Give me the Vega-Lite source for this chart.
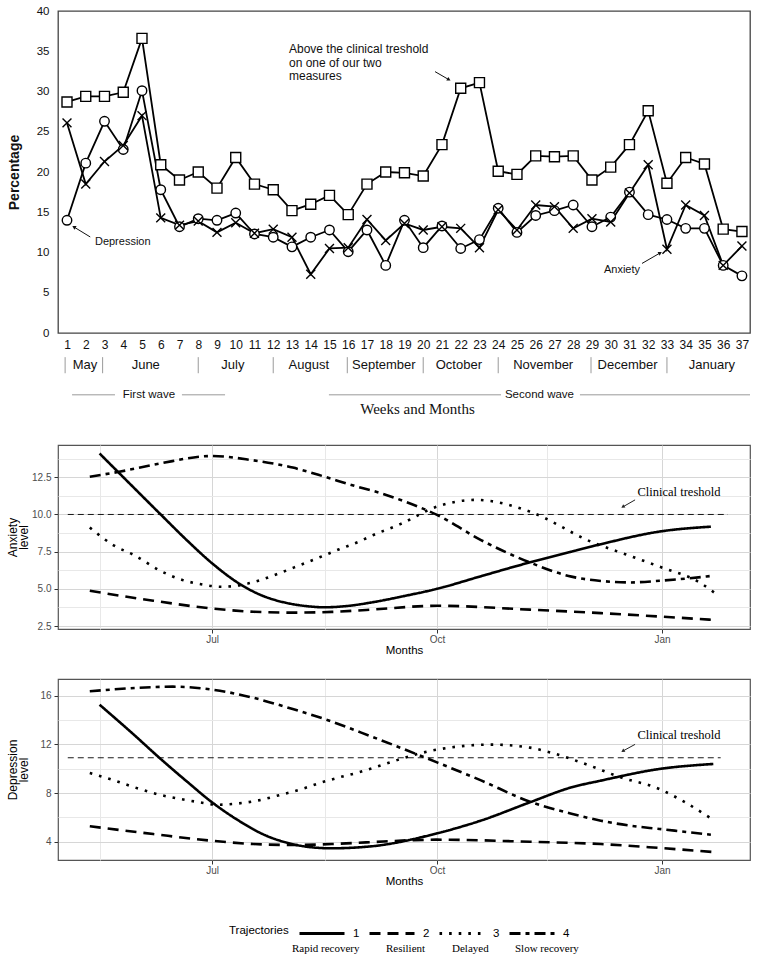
{
  "$schema": "https://vega.github.io/schema/vega-lite/v6.json",
  "background": "white",
  "padding": {"left": 5, "top": 4, "right": 5, "bottom": 2},
  "config": {
    "font": "Liberation Sans",
    "view": {"stroke": "#555555", "strokeWidth": 1.2},
    "axis": {"labelFont": "Liberation Sans", "titleFont": "Liberation Sans"},
    "legend": {"labelFont": "Liberation Sans", "titleFont": "Liberation Sans"}
  },
  "spacing": 21,
  "resolve": {
    "scale": {"strokeDash": "independent", "color": "independent", "shape": "independent", "size": "independent"},
    "legend": {"strokeDash": "independent", "color": "independent", "shape": "independent", "size": "independent"}
  },
  "datasets": {
    "weekly": [
      {"week":1,"measure":"Above threshold","percent":28.7},{"week":2,"measure":"Above threshold","percent":29.4},{"week":3,"measure":"Above threshold","percent":29.4},{"week":4,"measure":"Above threshold","percent":29.9},{"week":5,"measure":"Above threshold","percent":36.6},{"week":6,"measure":"Above threshold","percent":20.9},{"week":7,"measure":"Above threshold","percent":19.0},{"week":8,"measure":"Above threshold","percent":20.0},{"week":9,"measure":"Above threshold","percent":18.0},{"week":10,"measure":"Above threshold","percent":21.8},{"week":11,"measure":"Above threshold","percent":18.5},{"week":12,"measure":"Above threshold","percent":17.8},{"week":13,"measure":"Above threshold","percent":15.2},{"week":14,"measure":"Above threshold","percent":16.0},{"week":15,"measure":"Above threshold","percent":17.1},{"week":16,"measure":"Above threshold","percent":14.7},{"week":17,"measure":"Above threshold","percent":18.5},{"week":18,"measure":"Above threshold","percent":20.0},{"week":19,"measure":"Above threshold","percent":19.9},{"week":20,"measure":"Above threshold","percent":19.5},{"week":21,"measure":"Above threshold","percent":23.4},{"week":22,"measure":"Above threshold","percent":30.4},{"week":23,"measure":"Above threshold","percent":31.1},{"week":24,"measure":"Above threshold","percent":20.1},{"week":25,"measure":"Above threshold","percent":19.7},{"week":26,"measure":"Above threshold","percent":22.0},{"week":27,"measure":"Above threshold","percent":21.9},{"week":28,"measure":"Above threshold","percent":22.0},{"week":29,"measure":"Above threshold","percent":19.0},{"week":30,"measure":"Above threshold","percent":20.6},{"week":31,"measure":"Above threshold","percent":23.4},{"week":32,"measure":"Above threshold","percent":27.6},{"week":33,"measure":"Above threshold","percent":18.6},{"week":34,"measure":"Above threshold","percent":21.8},{"week":35,"measure":"Above threshold","percent":21.0},{"week":36,"measure":"Above threshold","percent":12.9},{"week":37,"measure":"Above threshold","percent":12.6},
      {"week":1,"measure":"Depression","percent":14.0},{"week":2,"measure":"Depression","percent":21.1},{"week":3,"measure":"Depression","percent":26.3},{"week":4,"measure":"Depression","percent":22.8},{"week":5,"measure":"Depression","percent":30.1},{"week":6,"measure":"Depression","percent":17.8},{"week":7,"measure":"Depression","percent":13.2},{"week":8,"measure":"Depression","percent":14.2},{"week":9,"measure":"Depression","percent":14.0},{"week":10,"measure":"Depression","percent":14.9},{"week":11,"measure":"Depression","percent":12.3},{"week":12,"measure":"Depression","percent":11.9},{"week":13,"measure":"Depression","percent":10.7},{"week":14,"measure":"Depression","percent":11.9},{"week":15,"measure":"Depression","percent":12.8},{"week":16,"measure":"Depression","percent":10.1},{"week":17,"measure":"Depression","percent":12.8},{"week":18,"measure":"Depression","percent":8.4},{"week":19,"measure":"Depression","percent":14.0},{"week":20,"measure":"Depression","percent":10.6},{"week":21,"measure":"Depression","percent":13.3},{"week":22,"measure":"Depression","percent":10.5},{"week":23,"measure":"Depression","percent":11.6},{"week":24,"measure":"Depression","percent":15.5},{"week":25,"measure":"Depression","percent":12.5},{"week":26,"measure":"Depression","percent":14.6},{"week":27,"measure":"Depression","percent":15.2},{"week":28,"measure":"Depression","percent":15.9},{"week":29,"measure":"Depression","percent":13.2},{"week":30,"measure":"Depression","percent":14.4},{"week":31,"measure":"Depression","percent":17.5},{"week":32,"measure":"Depression","percent":14.7},{"week":33,"measure":"Depression","percent":14.1},{"week":34,"measure":"Depression","percent":13.0},{"week":35,"measure":"Depression","percent":13.0},{"week":36,"measure":"Depression","percent":8.4},{"week":37,"measure":"Depression","percent":7.1},
      {"week":1,"measure":"Anxiety","percent":26.1},{"week":2,"measure":"Anxiety","percent":18.5},{"week":3,"measure":"Anxiety","percent":21.3},{"week":4,"measure":"Anxiety","percent":23.3},{"week":5,"measure":"Anxiety","percent":27.0},{"week":6,"measure":"Anxiety","percent":14.3},{"week":7,"measure":"Anxiety","percent":13.4},{"week":8,"measure":"Anxiety","percent":13.9},{"week":9,"measure":"Anxiety","percent":12.5},{"week":10,"measure":"Anxiety","percent":13.7},{"week":11,"measure":"Anxiety","percent":12.4},{"week":12,"measure":"Anxiety","percent":12.9},{"week":13,"measure":"Anxiety","percent":11.9},{"week":14,"measure":"Anxiety","percent":7.3},{"week":15,"measure":"Anxiety","percent":10.5},{"week":16,"measure":"Anxiety","percent":10.6},{"week":17,"measure":"Anxiety","percent":14.1},{"week":18,"measure":"Anxiety","percent":11.5},{"week":19,"measure":"Anxiety","percent":13.6},{"week":20,"measure":"Anxiety","percent":12.8},{"week":21,"measure":"Anxiety","percent":13.2},{"week":22,"measure":"Anxiety","percent":13.0},{"week":23,"measure":"Anxiety","percent":10.6},{"week":24,"measure":"Anxiety","percent":15.3},{"week":25,"measure":"Anxiety","percent":12.8},{"week":26,"measure":"Anxiety","percent":15.9},{"week":27,"measure":"Anxiety","percent":15.7},{"week":28,"measure":"Anxiety","percent":13.0},{"week":29,"measure":"Anxiety","percent":14.2},{"week":30,"measure":"Anxiety","percent":13.8},{"week":31,"measure":"Anxiety","percent":17.4},{"week":32,"measure":"Anxiety","percent":20.9},{"week":33,"measure":"Anxiety","percent":10.4},{"week":34,"measure":"Anxiety","percent":15.9},{"week":35,"measure":"Anxiety","percent":14.6},{"week":36,"measure":"Anxiety","percent":8.4},{"week":37,"measure":"Anxiety","percent":10.8}
    ],
    "months": [
      {"month":"May","middle":1.96},{"month":"June","middle":5.2},{"month":"July","middle":9.85},{"month":"August","middle":13.9},{"month":"September","middle":17.9},{"month":"October","middle":21.9},{"month":"November","middle":26.4},{"month":"December","middle":30.9},{"month":"January","middle":35.4}
    ],
    "monthBoundaries": [
      {"boundary":0.9},{"boundary":2.9},{"boundary":8},{"boundary":12},{"boundary":15.95},{"boundary":20},{"boundary":24},{"boundary":28.95},{"boundary":33}
    ],
    "waveSpans": [
      {"wave":"First wave","from":1.27,"to":3.56},{"wave":"First wave","from":7.13,"to":9.43},
      {"wave":"Second wave","from":14.97,"to":24.15},{"wave":"Second wave","from":28.36,"to":37.43}
    ],
    "waveLabels": [{"wave":"First wave","middle":5.37},{"wave":"Second wave","middle":26.2}],
    "topNotes": [
      {"note":"Depression","week":2.49,"percent":11.28},
      {"note":"Anxiety","week":29.64,"percent":7.81}
    ],
    "topNoteAbove": [{"note":"Above the clinical treshold\non one of our two\nmeasures","week":12.84,"percent":35.9}],
    "topArrows": [
      {"arrow":"above","fromWeek":20.63,"toWeek":21.37,"fromPercent":32.47,"toPercent":31.47},
      {"arrow":"depression","fromWeek":2.24,"toWeek":1.37,"fromPercent":11.93,"toPercent":13.17},
      {"arrow":"anxiety","fromWeek":31.67,"toWeek":32.64,"fromPercent":8.64,"toPercent":9.95}
    ],
    "anxiety": [
      {"date":"2020-05-16","trajectory":"1","label":"Rapid recovery","level":14.1},{"date":"2020-05-30","trajectory":"1","label":"Rapid recovery","level":11.8},{"date":"2020-06-10","trajectory":"1","label":"Rapid recovery","level":10.0},{"date":"2020-06-21","trajectory":"1","label":"Rapid recovery","level":8.22},{"date":"2020-07-01","trajectory":"1","label":"Rapid recovery","level":6.72},{"date":"2020-07-13","trajectory":"1","label":"Rapid recovery","level":5.26},{"date":"2020-07-21","trajectory":"1","label":"Rapid recovery","level":4.58},{"date":"2020-07-31","trajectory":"1","label":"Rapid recovery","level":4.07},{"date":"2020-08-08","trajectory":"1","label":"Rapid recovery","level":3.85},{"date":"2020-08-16","trajectory":"1","label":"Rapid recovery","level":3.76},{"date":"2020-08-27","trajectory":"1","label":"Rapid recovery","level":3.88},{"date":"2020-09-04","trajectory":"1","label":"Rapid recovery","level":4.08},{"date":"2020-09-18","trajectory":"1","label":"Rapid recovery","level":4.53},{"date":"2020-10-01","trajectory":"1","label":"Rapid recovery","level":5.0},{"date":"2020-10-19","trajectory":"1","label":"Rapid recovery","level":5.85},{"date":"2020-11-08","trajectory":"1","label":"Rapid recovery","level":6.78},{"date":"2020-11-25","trajectory":"1","label":"Rapid recovery","level":7.5},{"date":"2020-12-07","trajectory":"1","label":"Rapid recovery","level":8.0},{"date":"2020-12-31","trajectory":"1","label":"Rapid recovery","level":8.85},{"date":"2021-01-21","trajectory":"1","label":"Rapid recovery","level":9.18},
      {"date":"2020-05-12","trajectory":"2","label":"Resilient","level":4.87},{"date":"2020-06-07","trajectory":"2","label":"Resilient","level":4.2},{"date":"2020-07-01","trajectory":"2","label":"Resilient","level":3.68},{"date":"2020-07-18","trajectory":"2","label":"Resilient","level":3.46},{"date":"2020-08-03","trajectory":"2","label":"Resilient","level":3.4},{"date":"2020-08-19","trajectory":"2","label":"Resilient","level":3.45},{"date":"2020-09-02","trajectory":"2","label":"Resilient","level":3.58},{"date":"2020-10-01","trajectory":"2","label":"Resilient","level":3.86},{"date":"2020-11-08","trajectory":"2","label":"Resilient","level":3.6},{"date":"2020-12-07","trajectory":"2","label":"Resilient","level":3.37},{"date":"2020-12-31","trajectory":"2","label":"Resilient","level":3.14},{"date":"2021-01-21","trajectory":"2","label":"Resilient","level":2.92},
      {"date":"2020-05-12","trajectory":"3","label":"Delayed","level":9.12},{"date":"2020-05-22","trajectory":"3","label":"Delayed","level":7.9},{"date":"2020-05-30","trajectory":"3","label":"Delayed","level":7.28},{"date":"2020-06-10","trajectory":"3","label":"Delayed","level":6.2},{"date":"2020-06-18","trajectory":"3","label":"Delayed","level":5.64},{"date":"2020-06-26","trajectory":"3","label":"Delayed","level":5.32},{"date":"2020-07-05","trajectory":"3","label":"Delayed","level":5.14},{"date":"2020-07-13","trajectory":"3","label":"Delayed","level":5.26},{"date":"2020-07-21","trajectory":"3","label":"Delayed","level":5.6},{"date":"2020-07-29","trajectory":"3","label":"Delayed","level":6.08},{"date":"2020-08-06","trajectory":"3","label":"Delayed","level":6.6},{"date":"2020-08-14","trajectory":"3","label":"Delayed","level":7.12},{"date":"2020-08-22","trajectory":"3","label":"Delayed","level":7.66},{"date":"2020-08-30","trajectory":"3","label":"Delayed","level":8.17},{"date":"2020-09-05","trajectory":"3","label":"Delayed","level":8.62},{"date":"2020-09-16","trajectory":"3","label":"Delayed","level":9.35},{"date":"2020-10-01","trajectory":"3","label":"Delayed","level":10.53},{"date":"2020-10-17","trajectory":"3","label":"Delayed","level":10.98},{"date":"2020-10-23","trajectory":"3","label":"Delayed","level":10.9},{"date":"2020-11-08","trajectory":"3","label":"Delayed","level":10.19},{"date":"2020-12-03","trajectory":"3","label":"Delayed","level":8.17},{"date":"2020-12-19","trajectory":"3","label":"Delayed","level":7.21},{"date":"2020-12-31","trajectory":"3","label":"Delayed","level":6.49},{"date":"2021-01-17","trajectory":"3","label":"Delayed","level":5.37},{"date":"2021-01-23","trajectory":"3","label":"Delayed","level":4.67},
      {"date":"2020-05-12","trajectory":"4","label":"Slow recovery","level":12.54},{"date":"2020-05-24","trajectory":"4","label":"Slow recovery","level":12.87},{"date":"2020-06-10","trajectory":"4","label":"Slow recovery","level":13.44},{"date":"2020-07-01","trajectory":"4","label":"Slow recovery","level":13.93},{"date":"2020-07-17","trajectory":"4","label":"Slow recovery","level":13.66},{"date":"2020-08-03","trajectory":"4","label":"Slow recovery","level":13.15},{"date":"2020-08-16","trajectory":"4","label":"Slow recovery","level":12.54},{"date":"2020-08-27","trajectory":"4","label":"Slow recovery","level":11.98},{"date":"2020-09-08","trajectory":"4","label":"Slow recovery","level":11.43},{"date":"2020-09-18","trajectory":"4","label":"Slow recovery","level":10.86},{"date":"2020-10-01","trajectory":"4","label":"Slow recovery","level":9.97},{"date":"2020-10-19","trajectory":"4","label":"Slow recovery","level":8.28},{"date":"2020-11-08","trajectory":"4","label":"Slow recovery","level":6.77},{"date":"2020-11-25","trajectory":"4","label":"Slow recovery","level":5.82},{"date":"2020-12-07","trajectory":"4","label":"Slow recovery","level":5.53},{"date":"2020-12-19","trajectory":"4","label":"Slow recovery","level":5.43},{"date":"2020-12-31","trajectory":"4","label":"Slow recovery","level":5.54},{"date":"2021-01-22","trajectory":"4","label":"Slow recovery","level":5.88}
    ],
    "depression": [
      {"date":"2020-05-16","trajectory":"1","label":"Rapid recovery","level":15.26},{"date":"2020-05-30","trajectory":"1","label":"Rapid recovery","level":12.8},{"date":"2020-06-10","trajectory":"1","label":"Rapid recovery","level":10.8},{"date":"2020-06-21","trajectory":"1","label":"Rapid recovery","level":8.9},{"date":"2020-07-01","trajectory":"1","label":"Rapid recovery","level":7.24},{"date":"2020-07-13","trajectory":"1","label":"Rapid recovery","level":5.6},{"date":"2020-07-22","trajectory":"1","label":"Rapid recovery","level":4.6},{"date":"2020-08-01","trajectory":"1","label":"Rapid recovery","level":3.9},{"date":"2020-08-10","trajectory":"1","label":"Rapid recovery","level":3.56},{"date":"2020-08-19","trajectory":"1","label":"Rapid recovery","level":3.46},{"date":"2020-08-30","trajectory":"1","label":"Rapid recovery","level":3.54},{"date":"2020-09-04","trajectory":"1","label":"Rapid recovery","level":3.62},{"date":"2020-10-01","trajectory":"1","label":"Rapid recovery","level":4.69},{"date":"2020-10-19","trajectory":"1","label":"Rapid recovery","level":5.74},{"date":"2020-11-08","trajectory":"1","label":"Rapid recovery","level":7.24},{"date":"2020-11-25","trajectory":"1","label":"Rapid recovery","level":8.47},{"date":"2020-12-07","trajectory":"1","label":"Rapid recovery","level":9.02},{"date":"2020-12-31","trajectory":"1","label":"Rapid recovery","level":9.98},{"date":"2021-01-22","trajectory":"1","label":"Rapid recovery","level":10.39},
      {"date":"2020-05-12","trajectory":"2","label":"Resilient","level":5.27},{"date":"2020-06-07","trajectory":"2","label":"Resilient","level":4.63},{"date":"2020-07-01","trajectory":"2","label":"Resilient","level":4.08},{"date":"2020-07-18","trajectory":"2","label":"Resilient","level":3.81},{"date":"2020-08-03","trajectory":"2","label":"Resilient","level":3.73},{"date":"2020-08-19","trajectory":"2","label":"Resilient","level":3.81},{"date":"2020-09-02","trajectory":"2","label":"Resilient","level":3.95},{"date":"2020-10-01","trajectory":"2","label":"Resilient","level":4.17},{"date":"2020-11-08","trajectory":"2","label":"Resilient","level":4.0},{"date":"2020-12-07","trajectory":"2","label":"Resilient","level":3.81},{"date":"2020-12-31","trajectory":"2","label":"Resilient","level":3.49},{"date":"2021-01-23","trajectory":"2","label":"Resilient","level":3.14},
      {"date":"2020-05-12","trajectory":"3","label":"Delayed","level":9.65},{"date":"2020-05-22","trajectory":"3","label":"Delayed","level":9.04},{"date":"2020-05-30","trajectory":"3","label":"Delayed","level":8.49},{"date":"2020-06-10","trajectory":"3","label":"Delayed","level":7.84},{"date":"2020-06-18","trajectory":"3","label":"Delayed","level":7.51},{"date":"2020-06-26","trajectory":"3","label":"Delayed","level":7.24},{"date":"2020-07-03","trajectory":"3","label":"Delayed","level":7.04},{"date":"2020-07-12","trajectory":"3","label":"Delayed","level":7.15},{"date":"2020-07-20","trajectory":"3","label":"Delayed","level":7.4},{"date":"2020-07-28","trajectory":"3","label":"Delayed","level":7.8},{"date":"2020-08-07","trajectory":"3","label":"Delayed","level":8.35},{"date":"2020-08-14","trajectory":"3","label":"Delayed","level":8.82},{"date":"2020-08-22","trajectory":"3","label":"Delayed","level":9.29},{"date":"2020-08-30","trajectory":"3","label":"Delayed","level":9.7},{"date":"2020-09-03","trajectory":"3","label":"Delayed","level":9.95},{"date":"2020-10-01","trajectory":"3","label":"Delayed","level":11.57},{"date":"2020-10-23","trajectory":"3","label":"Delayed","level":11.98},{"date":"2020-11-08","trajectory":"3","label":"Delayed","level":11.73},{"date":"2020-11-17","trajectory":"3","label":"Delayed","level":11.3},{"date":"2020-12-01","trajectory":"3","label":"Delayed","level":10.36},{"date":"2020-12-15","trajectory":"3","label":"Delayed","level":9.3},{"date":"2020-12-31","trajectory":"3","label":"Delayed","level":8.33},{"date":"2021-01-10","trajectory":"3","label":"Delayed","level":7.29},{"date":"2021-01-21","trajectory":"3","label":"Delayed","level":5.93},
      {"date":"2020-05-12","trajectory":"4","label":"Slow recovery","level":16.36},{"date":"2020-05-28","trajectory":"4","label":"Slow recovery","level":16.6},{"date":"2020-06-15","trajectory":"4","label":"Slow recovery","level":16.74},{"date":"2020-07-01","trajectory":"4","label":"Slow recovery","level":16.5},{"date":"2020-07-17","trajectory":"4","label":"Slow recovery","level":15.87},{"date":"2020-08-03","trajectory":"4","label":"Slow recovery","level":14.9},{"date":"2020-08-16","trajectory":"4","label":"Slow recovery","level":14.08},{"date":"2020-09-04","trajectory":"4","label":"Slow recovery","level":12.66},{"date":"2020-10-01","trajectory":"4","label":"Slow recovery","level":10.52},{"date":"2020-10-19","trajectory":"4","label":"Slow recovery","level":9.04},{"date":"2020-11-08","trajectory":"4","label":"Slow recovery","level":7.29},{"date":"2020-11-25","trajectory":"4","label":"Slow recovery","level":6.3},{"date":"2020-12-07","trajectory":"4","label":"Slow recovery","level":5.73},{"date":"2020-12-19","trajectory":"4","label":"Slow recovery","level":5.32},{"date":"2020-12-31","trajectory":"4","label":"Slow recovery","level":5.05},{"date":"2021-01-21","trajectory":"4","label":"Slow recovery","level":4.58}
    ],
    "anxietyThreshold": [{"from":"2020-05-03","to":"2021-01-28","level":10}],
    "depressionThreshold": [{"from":"2020-05-03","to":"2021-01-25","level":10.9}],
    "anxietyNote": [{"note":"Clinical treshold","date":"2020-12-22","level":11.53}],
    "anxietyArrow": [{"from":"2020-12-21","to":"2020-12-16","start":10.98,"end":10.51}],
    "depressionNote": [{"note":"Clinical treshold","date":"2020-12-22","level":12.77}],
    "depressionArrow": [{"from":"2020-12-21","to":"2020-12-16","start":12.0,"end":11.45}]
  },
  "vconcat": [
    {
      "width": 692,
      "height": 322,
      "view": {"stroke": "#444444", "strokeWidth": 1.3},
      "layer": [
        {
          "data": {"name": "weekly"},
          "mark": {"type": "line", "color": "black", "strokeWidth": 1.8},
          "encoding": {
            "x": {"field": "week", "type": "quantitative",
              "scale": {"domain": [0.52, 37.43], "nice": false, "zero": false},
              "axis": {"values": [1,2,3,4,5,6,7,8,9,10,11,12,13,14,15,16,17,18,19,20,21,22,23,24,25,26,27,28,29,30,31,32,33,34,35,36,37],
                "tickCount": 40, "format": "d", "ticks": false, "tickSize": 0, "domain": false, "grid": false, "labelPadding": 6,
                "labelFontSize": 12, "labelColor": "#111111", "labelOverlap": false, "labelFlush": false, "labelBound": false,
                "title": "Weeks and Months", "titleFont": "Liberation Serif", "titleFontSize": 15, "titleFontWeight": "normal",
                "titleColor": "#111111", "titlePadding": 51, "titleX": 359}},
            "y": {"field": "percent", "type": "quantitative",
              "scale": {"domain": [0, 40], "nice": false},
              "axis": {"values": [0,5,10,15,20,25,30,35,40], "ticks": false, "tickSize": 0, "domain": false, "grid": false,
                "labelPadding": 9, "labelFontSize": 11.5, "labelColor": "#111111", "minExtent": 24, "maxExtent": 24,
                "title": "Percentage", "titleFontSize": 14, "titleFontWeight": "bold", "titleColor": "#111111", "titlePadding": 13}},
            "detail": {"field": "measure", "type": "nominal"}
          }
        },
        {
          "data": {"name": "weekly"},
          "mark": {"type": "point", "filled": true, "fill": "white", "stroke": "black", "strokeWidth": 1.4, "opacity": 1},
          "encoding": {
            "x": {"field": "week", "type": "quantitative"},
            "y": {"field": "percent", "type": "quantitative"},
            "shape": {"field": "measure", "type": "nominal",
              "scale": {"domain": ["Above threshold", "Depression", "Anxiety"], "range": ["square", "circle", "M-1,-1L1,1M-1,1L1,-1"]},
              "legend": null},
            "size": {"field": "measure", "type": "ordinal",
              "scale": {"domain": ["Above threshold", "Depression", "Anxiety"], "range": [100, 80, 50]},
              "legend": null}
          }
        },
        {
          "data": {"name": "months"},
          "mark": {"type": "text", "fontSize": 13, "color": "#111111", "baseline": "middle"},
          "encoding": {
            "x": {"field": "middle", "type": "quantitative"},
            "y": {"datum": -4, "type": "quantitative"},
            "text": {"field": "month", "type": "nominal"}
          }
        },
        {
          "data": {"name": "monthBoundaries"},
          "mark": {"type": "rule", "color": "#9a9a9a", "strokeWidth": 1},
          "encoding": {
            "x": {"field": "boundary", "type": "quantitative"},
            "y": {"datum": -3, "type": "quantitative"},
            "y2": {"datum": -5}
          }
        },
        {
          "data": {"name": "waveSpans"},
          "mark": {"type": "rule", "color": "#9a9a9a", "strokeWidth": 1},
          "encoding": {
            "x": {"field": "from", "type": "quantitative"},
            "x2": {"field": "to"},
            "y": {"datum": -7.68, "type": "quantitative"}
          }
        },
        {
          "data": {"name": "waveLabels"},
          "mark": {"type": "text", "fontSize": 11.5, "color": "#111111", "baseline": "middle"},
          "encoding": {
            "x": {"field": "middle", "type": "quantitative"},
            "y": {"datum": -7.68, "type": "quantitative"},
            "text": {"field": "wave", "type": "nominal"}
          }
        },
        {
          "data": {"name": "topNotes"},
          "mark": {"type": "text", "fontSize": 11, "color": "#111111", "align": "left", "baseline": "middle"},
          "encoding": {
            "x": {"field": "week", "type": "quantitative"},
            "y": {"field": "percent", "type": "quantitative"},
            "text": {"field": "note", "type": "nominal"}
          }
        },
        {
          "data": {"name": "topNoteAbove"},
          "mark": {"type": "text", "fontSize": 12, "color": "#111111", "align": "left", "baseline": "top", "lineBreak": "\n", "lineHeight": 13.5},
          "encoding": {
            "x": {"field": "week", "type": "quantitative"},
            "y": {"field": "percent", "type": "quantitative"},
            "text": {"field": "note", "type": "nominal"}
          }
        },
        {
          "data": {"name": "topArrows"},
          "mark": {"type": "rule", "color": "#111111", "strokeWidth": 1},
          "encoding": {
            "x": {"field": "fromWeek", "type": "quantitative"},
            "x2": {"field": "toWeek"},
            "y": {"field": "fromPercent", "type": "quantitative"},
            "y2": {"field": "toPercent"}
          }
        },
        {
          "data": {"name": "topArrows"},
          "transform": [{"filter": "datum.arrow == 'above'"}],
          "mark": {"type": "point", "shape": "triangle-up", "filled": true, "color": "#111111", "size": 18, "angle": 120, "opacity": 1},
          "encoding": {
            "x": {"field": "toWeek", "type": "quantitative"},
            "y": {"field": "toPercent", "type": "quantitative"}
          }
        },
        {
          "data": {"name": "topArrows"},
          "transform": [{"filter": "datum.arrow == 'depression'"}],
          "mark": {"type": "point", "shape": "triangle-up", "filled": true, "color": "#111111", "size": 18, "angle": 301, "opacity": 1},
          "encoding": {
            "x": {"field": "toWeek", "type": "quantitative"},
            "y": {"field": "toPercent", "type": "quantitative"}
          }
        },
        {
          "data": {"name": "topArrows"},
          "transform": [{"filter": "datum.arrow == 'anxiety'"}],
          "mark": {"type": "point", "shape": "triangle-up", "filled": true, "color": "#111111", "size": 18, "angle": 60, "opacity": 1},
          "encoding": {
            "x": {"field": "toWeek", "type": "quantitative"},
            "y": {"field": "toPercent", "type": "quantitative"}
          }
        }
      ]
    },
    {
      "width": 692,
      "height": 184,
      "layer": [
        {
          "data": {"name": "anxietyThreshold"},
          "mark": {"type": "rule", "color": "black", "strokeWidth": 0.9, "strokeDash": [6, 4]},
          "encoding": {
            "x": {"field": "from", "type": "temporal",
              "scale": {"type": "utc", "domain": [{"year": 2020, "month": 4, "date": 29, "utc": true}, {"year": 2021, "month": 2, "date": 6, "utc": true}]},
              "axis": {"orient": "top", "values": [{"year": 2020, "month": 5, "date": 16, "utc": true}, {"year": 2020, "month": 8, "date": 16, "utc": true}, {"year": 2020, "month": 11, "date": 15, "utc": true}],
                "grid": true, "gridColor": "#e8e8e8", "labels": false, "ticks": true, "tickSize": 5, "tickColor": "transparent", "domain": false, "title": null}},
            "x2": {"field": "to"},
            "y": {"field": "level", "type": "quantitative",
              "scale": {"domain": [2.3, 14.67], "nice": false, "zero": false},
              "axis": {"orient": "right", "values": [3.75, 6.25, 8.75, 11.25, 13.75], "grid": true, "gridColor": "#e8e8e8",
                "labels": false, "ticks": false, "domain": false, "title": null}}
          }
        },
        {
          "data": {"name": "anxiety"},
          "mark": {"type": "line", "strokeWidth": 2.6, "interpolate": "monotone"},
          "encoding": {
            "x": {"field": "date", "type": "temporal",
              "axis": {"orient": "bottom", "values": [{"year": 2020, "month": 7, "date": 1, "utc": true}, {"year": 2020, "month": 10, "date": 1, "utc": true}, {"year": 2021, "month": 1, "date": 1, "utc": true}],
                "labelExpr": "utcFormat(datum.value, '%b')", "grid": true, "gridColor": "#d6d6d6", "tickSize": 4, "tickColor": "#333333",
                "labelPadding": 1, "labelFontSize": 10, "labelColor": "#4d4d4d", "domain": false,
                "title": "Months", "titleFontSize": 11.5, "titleFontWeight": "normal", "titleColor": "black", "titlePadding": 0}},
            "y": {"field": "level", "type": "quantitative",
              "axis": {"orient": "left", "values": [2.5, 5, 7.5, 10, 12.5], "format": ".1f", "grid": true, "gridColor": "#d6d6d6",
                "tickSize": 4, "tickColor": "#333333", "labelPadding": 3, "labelFontSize": 10, "labelColor": "#4d4d4d", "domain": false,
                "minExtent": 24, "maxExtent": 24, "title": ["Anxiety", "level"], "titleFontSize": 12, "titleFontWeight": "normal",
                "titleColor": "black", "titleLineHeight": 11, "titlePadding": 4}},
            "strokeDash": {"field": "trajectory", "type": "nominal",
              "scale": {"domain": ["1", "2", "3", "4"], "range": [[1, 0], [11, 7], [2.6, 7], [11, 5, 4, 5]]}, "legend": null},
            "color": {"field": "label", "type": "nominal",
              "scale": {"domain": ["Rapid recovery", "Resilient", "Delayed", "Slow recovery"], "range": ["black", "black", "black", "black"]}, "legend": null}
          }
        },
        {
          "data": {"name": "anxietyNote"},
          "mark": {"type": "text", "font": "Liberation Serif", "fontSize": 12.5, "color": "black", "align": "left", "baseline": "middle"},
          "encoding": {
            "x": {"field": "date", "type": "temporal", "axis": null},
            "y": {"field": "level", "type": "quantitative", "axis": null},
            "text": {"field": "note", "type": "nominal"}
          }
        },
        {
          "data": {"name": "anxietyArrow"},
          "mark": {"type": "rule", "color": "#222222", "strokeWidth": 1},
          "encoding": {
            "x": {"field": "from", "type": "temporal", "axis": null},
            "x2": {"field": "to"},
            "y": {"field": "start", "type": "quantitative", "axis": null},
            "y2": {"field": "end"}
          }
        },
        {
          "data": {"name": "anxietyArrow"},
          "mark": {"type": "point", "shape": "triangle-up", "filled": true, "color": "#222222", "size": 16, "angle": 237, "opacity": 1},
          "encoding": {
            "x": {"field": "to", "type": "temporal", "axis": null},
            "y": {"field": "end", "type": "quantitative", "axis": null}
          }
        }
      ],
      "resolve": {"axis": {"x": "independent", "y": "independent"}}
    },
    {
      "width": 692,
      "height": 181,
      "layer": [
        {
          "data": {"name": "depressionThreshold"},
          "mark": {"type": "rule", "color": "black", "strokeWidth": 0.9, "strokeDash": [6, 4]},
          "encoding": {
            "x": {"field": "from", "type": "temporal",
              "scale": {"type": "utc", "domain": [{"year": 2020, "month": 4, "date": 29, "utc": true}, {"year": 2021, "month": 2, "date": 6, "utc": true}]},
              "axis": {"orient": "top", "values": [{"year": 2020, "month": 5, "date": 16, "utc": true}, {"year": 2020, "month": 8, "date": 16, "utc": true}, {"year": 2020, "month": 11, "date": 15, "utc": true}],
                "grid": true, "gridColor": "#e8e8e8", "labels": false, "ticks": false, "domain": false, "title": null}},
            "x2": {"field": "to"},
            "y": {"field": "level", "type": "quantitative",
              "scale": {"domain": [2.5, 17.37], "nice": false, "zero": false},
              "axis": {"orient": "right", "values": [6, 10, 14], "grid": true, "gridColor": "#e8e8e8",
                "labels": false, "ticks": false, "domain": false, "title": null}}
          }
        },
        {
          "data": {"name": "depression"},
          "mark": {"type": "line", "strokeWidth": 2.6, "interpolate": "monotone"},
          "encoding": {
            "x": {"field": "date", "type": "temporal",
              "axis": {"orient": "bottom", "values": [{"year": 2020, "month": 7, "date": 1, "utc": true}, {"year": 2020, "month": 10, "date": 1, "utc": true}, {"year": 2021, "month": 1, "date": 1, "utc": true}],
                "labelExpr": "utcFormat(datum.value, '%b')", "grid": true, "gridColor": "#d6d6d6", "tickSize": 4, "tickColor": "#333333",
                "labelPadding": 1, "labelFontSize": 10, "labelColor": "#4d4d4d", "domain": false,
                "title": "Months", "titleFontSize": 11.5, "titleFontWeight": "normal", "titleColor": "black", "titlePadding": 0}},
            "y": {"field": "level", "type": "quantitative",
              "axis": {"orient": "left", "values": [4, 8, 12, 16], "format": "d", "grid": true, "gridColor": "#d6d6d6",
                "tickSize": 4, "tickColor": "#333333", "labelPadding": 3, "labelFontSize": 10, "labelColor": "#4d4d4d", "domain": false,
                "minExtent": 24, "maxExtent": 24, "title": ["Depression", "level"], "titleFontSize": 12, "titleFontWeight": "normal",
                "titleColor": "black", "titleLineHeight": 11, "titlePadding": 4}},
            "strokeDash": {"field": "trajectory", "type": "nominal",
              "scale": {"domain": ["1", "2", "3", "4"], "range": [[1, 0], [11, 7], [2.6, 7], [11, 5, 4, 5]]},
              "legend": {"orient": "none", "legendX": 171, "legendY": 230.5, "direction": "horizontal",
                "title": "Trajectories", "titleOrient": "left", "titleAnchor": "middle", "titleBaseline": "top",
                "titleFontSize": 11.5, "titleFontWeight": "normal", "titleColor": "black",
                "titlePadding": 9, "symbolType": "stroke", "symbolSize": 2025, "symbolStrokeWidth": 3, "symbolStrokeColor": "black",
                "labelFontSize": 11.5, "labelColor": "black", "labelOffset": 7, "columnPadding": 3}},
            "color": {"field": "label", "type": "nominal",
              "scale": {"domain": ["Rapid recovery", "Resilient", "Delayed", "Slow recovery"], "range": ["black", "black", "black", "black"]},
              "legend": {"orient": "none", "legendX": 223, "legendY": 264.5, "direction": "horizontal", "title": null,
                "symbolSize": 0, "symbolStrokeWidth": 0, "symbolOpacity": 0, "labelFont": "Liberation Serif", "labelFontSize": 11,
                "labelColor": "black", "labelOffset": 0, "columnPadding": 15}}
          }
        },
        {
          "data": {"name": "depressionNote"},
          "mark": {"type": "text", "font": "Liberation Serif", "fontSize": 12.5, "color": "black", "align": "left", "baseline": "middle"},
          "encoding": {
            "x": {"field": "date", "type": "temporal", "axis": null},
            "y": {"field": "level", "type": "quantitative", "axis": null},
            "text": {"field": "note", "type": "nominal"}
          }
        },
        {
          "data": {"name": "depressionArrow"},
          "mark": {"type": "rule", "color": "#222222", "strokeWidth": 1},
          "encoding": {
            "x": {"field": "from", "type": "temporal", "axis": null},
            "x2": {"field": "to"},
            "y": {"field": "start", "type": "quantitative", "axis": null},
            "y2": {"field": "end"}
          }
        },
        {
          "data": {"name": "depressionArrow"},
          "mark": {"type": "point", "shape": "triangle-up", "filled": true, "color": "#222222", "size": 16, "angle": 237, "opacity": 1},
          "encoding": {
            "x": {"field": "to", "type": "temporal", "axis": null},
            "y": {"field": "end", "type": "quantitative", "axis": null}
          }
        }
      ],
      "resolve": {"axis": {"x": "independent", "y": "independent"}}
    }
  ]
}
